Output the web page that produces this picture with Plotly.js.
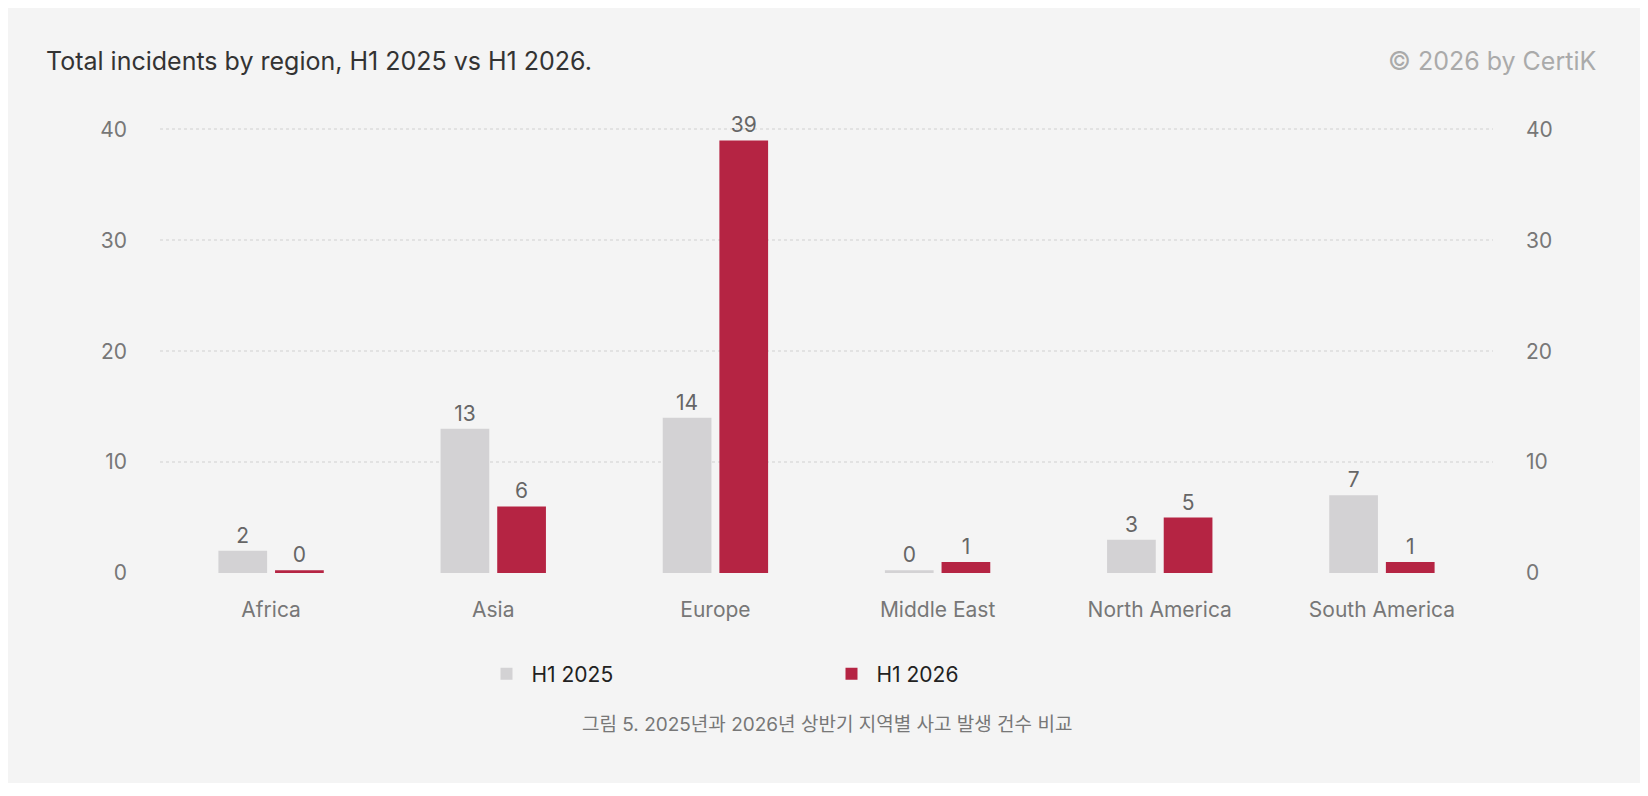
<!DOCTYPE html>
<html>
<head>
<meta charset="utf-8">
<script src="https://cdn.plot.ly/plotly-3.0.1.min.js"></script>
<style>
body { margin: 0; background: #fff; }
#chart { position: absolute; left: 8px; top: 8px; width: 1632px; height: 775px; }
</style>
</head>
<body>
<div id="chart"></div>
<script>
var regions = ["Africa", "Asia", "Europe", "Middle East", "North America", "South America"];
var h1_2025 = [2, 13, 14, 0, 3, 7];
var h1_2026 = [0, 6, 39, 1, 5, 1];

// zero values still get a thin stub like the original
function stub(v) { return v === 0 ? 0.25 : v; }

var font = "Inter, 'Noto Sans CJK KR', sans-serif";

var traces = [
    {
        x: regions, y: h1_2025.map(stub), name: "H1 2025", type: "bar",
        text: h1_2025.map(String), textposition: "outside", cliponaxis: false,
        textfont: { size: 21, color: "#666" },
        marker: { color: "#d3d2d4" }, hoverinfo: "none"
    },
    {
        x: regions, y: h1_2026.map(stub), name: "H1 2026", type: "bar",
        text: h1_2026.map(String), textposition: "outside", cliponaxis: false,
        textfont: { size: 21, color: "#666" },
        marker: { color: "#b52443" }, hoverinfo: "none"
    }
];

var layout = {
    width: 1632, height: 775,
    paper_bgcolor: "#f4f4f4", plot_bgcolor: "#f4f4f4",
    font: { family: font, color: "#777", size: 21 },
    margin: { l: 152, r: 147, t: 118, b: 210 },
    barmode: "group", bargap: 0.49, bargroupgap: 0.14,
    showlegend: true,
    legend: {
        orientation: "h", x: 0.5, xanchor: "center", y: -0.226, yanchor: "middle",
        font: { size: 21, color: "#222" }, itemwidth: 40, entrywidth: 290,
        traceorder: "normal"
    },
    xaxis: { tickfont: { size: 21, color: "#777" }, showline: false, ticks: "",
        ticklabelstandoff: 22 },
    yaxis: {
        range: [0, 40.3], tickvals: [0, 10, 20, 30, 40], ticks: "",
        gridcolor: "#e2e2e2", griddash: "dot", gridwidth: 2, zeroline: false,
        tickfont: { size: 21, color: "#777" }, ticklabelstandoff: 32
    },
    yaxis2: {
        overlaying: "y", side: "right", range: [0, 40.3], tickvals: [0, 10, 20, 30, 40],
        showgrid: false, zeroline: false, ticks: "",
        tickfont: { size: 21, color: "#777" }, ticklabelstandoff: 32
    },
    annotations: [
        { text: "Total incidents by region, H1 2025 vs H1 2026.", xref: "paper", yref: "paper",
          x: -0.087, y: 1.145, xanchor: "left", yanchor: "middle", showarrow: false,
          font: { size: 25, color: "#333" } },
        { text: "© 2026 by CertiK", xref: "paper", yref: "paper",
          x: 1.079, y: 1.145, xanchor: "right", yanchor: "middle", showarrow: false,
          font: { size: 25, color: "#aaa" } },
        { text: "그림 5. 2025년과 2026년 상반기 지역별 사고 발생 건수 비교", xref: "paper", yref: "paper",
          x: 0.5, y: -0.338, xanchor: "center", yanchor: "middle", showarrow: false,
          font: { size: 19, color: "#777" } }
    ]
};

// invisible trace so the right axis renders
traces.push({ x: regions, y: [0,0,0,0,0,0], yaxis: "y2", type: "scatter", mode: "none",
    showlegend: false, hoverinfo: "none" });

Plotly.newPlot("chart", traces, layout, { displayModeBar: false });
</script>
</body>
</html>
